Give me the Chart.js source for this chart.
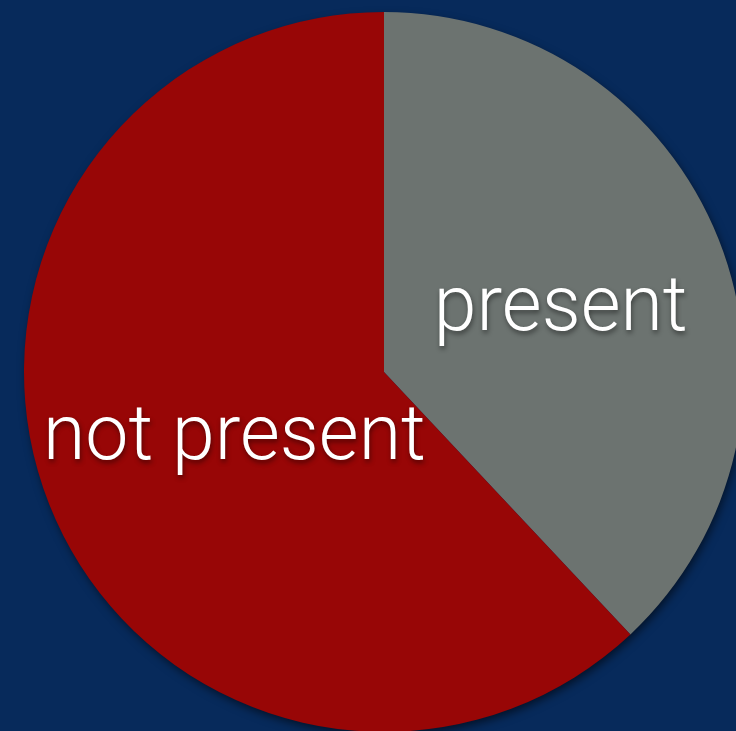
<!DOCTYPE html>
<html>
<head>
<meta charset="utf-8">
<script src="https://cdn.jsdelivr.net/npm/chart.js@4"></script>
<style>
  html, body { margin: 0; padding: 0; background: #072a5b; overflow: hidden; }
  #wrap { width: 768px; height: 744px; }
</style>
</head>
<body>
<div id="wrap"><canvas id="pieChart" width="768" height="744"></canvas></div>
<script>
// 数据
const categories = ['present', 'not present'];
const shares = [38, 62];
const sliceColors = ['#6c7370', '#980606'];
// label distance from centre, as a fraction of the radius
const labelRadius = [0.525, 0.45];

// shadow under the whole pie
const pieShadow = {
  id: 'pieShadow',
  beforeDatasetsDraw(chart) {
    const arc = chart.getDatasetMeta(0).data[0];
    if (!arc) return;
    const ctx = chart.ctx;
    ctx.save();
    ctx.shadowColor = 'rgba(0, 0, 0, 0.6)';
    ctx.shadowBlur = 10;
    ctx.shadowOffsetX = 2;
    ctx.shadowOffsetY = 4;
    ctx.fillStyle = '#072a5b';
    ctx.beginPath();
    ctx.arc(arc.x, arc.y, arc.outerRadius - 1, 0, Math.PI * 2);
    ctx.fill();
    ctx.restore();
  }
};

// slice labels
const sliceLabels = {
  id: 'sliceLabels',
  afterDatasetsDraw(chart) {
    const ctx = chart.ctx;
    chart.getDatasetMeta(0).data.forEach((arc, i) => {
      const mid = (arc.startAngle + arc.endAngle) / 2;
      const r = arc.outerRadius * labelRadius[i];
      const x = arc.x + Math.cos(mid) * r;
      const y = arc.y + Math.sin(mid) * r + 8;
      ctx.save();
      ctx.font = '300 77px Roboto, "Open Sans", sans-serif';
      ctx.textAlign = 'center';
      ctx.textBaseline = 'middle';
      ctx.shadowColor = 'rgba(0, 0, 0, 0.45)';
      ctx.shadowBlur = 5;
      ctx.shadowOffsetX = 1;
      ctx.shadowOffsetY = 3;
      ctx.fillStyle = '#ffffff';
      ctx.fillText(categories[i], x + 1, y);
      ctx.restore();
    });
  }
};

new Chart(document.getElementById('pieChart'), {
  type: 'pie',
  data: {
    labels: categories,
    datasets: [{
      data: shares,
      backgroundColor: sliceColors,
      borderWidth: 0
    }]
  },
  options: {
    responsive: false,
    animation: false,
    layout: { padding: { top: 12, bottom: 12, left: 24, right: 24 } },
    plugins: {
      legend: { display: false },
      tooltip: { enabled: false }
    }
  },
  plugins: [pieShadow, sliceLabels]
});
</script>
</body>
</html>
